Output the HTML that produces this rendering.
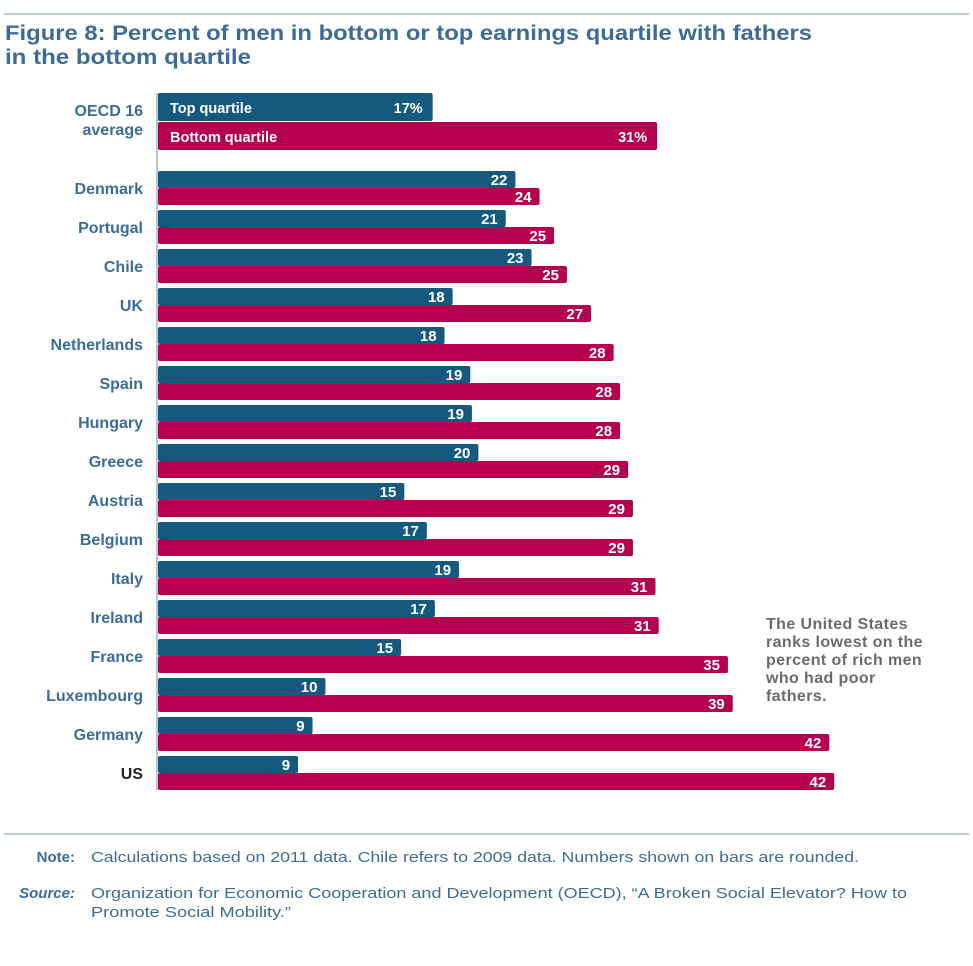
<!DOCTYPE html>
<html><head><meta charset="utf-8"><style>
body{margin:0;background:#fff;width:973px;height:961px;overflow:hidden;font-family:"Liberation Sans",sans-serif;}
</style></head><body>
<svg id="chart" width="973" height="961" xmlns="http://www.w3.org/2000/svg" font-family="Liberation Sans, sans-serif">
<line x1="4" y1="14" x2="969" y2="14" stroke="#a9b9cc" stroke-width="1.5"/>
<text x="5" y="40" font-size="21" font-weight="bold" fill="#3b6c98" textLength="807" lengthAdjust="spacingAndGlyphs">Figure 8: Percent of men in bottom or top earnings quartile with fathers</text>
<text x="5" y="64" font-size="21" font-weight="bold" fill="#3b6c98" textLength="246" lengthAdjust="spacingAndGlyphs">in the bottom quartile</text>
<g id="bars"></g>
<line x1="157" y1="93" x2="157" y2="790" stroke="#9fb0c4" stroke-width="1.5"/>
<text font-size="16" font-weight="bold" fill="#6b6b6b" letter-spacing="0.4">
<tspan x="766" y="629">The United States</tspan><tspan x="766" y="647">ranks lowest on the</tspan><tspan x="766" y="665">percent of rich men</tspan><tspan x="766" y="683">who had poor</tspan><tspan x="766" y="701">fathers.</tspan></text>
<line x1="4" y1="834" x2="969" y2="834" stroke="#a9b9cc" stroke-width="1.5"/>
<text x="75" y="862" font-size="15" font-weight="bold" fill="#3b6c98" text-anchor="end">Note:</text>
<text x="91" y="862" font-size="15" fill="#3b6c98" textLength="768" lengthAdjust="spacingAndGlyphs">Calculations based on 2011 data. Chile refers to 2009 data. Numbers shown on bars are rounded.</text>
<text x="75" y="898" font-size="15" font-weight="bold" font-style="italic" fill="#3b6c98" text-anchor="end">Source:</text>
<text x="91" y="898" font-size="15" fill="#3b6c98" textLength="816" lengthAdjust="spacingAndGlyphs">Organization for Economic Cooperation and Development (OECD), “A Broken Social Elevator? How to</text>
<text x="91" y="917" font-size="15" fill="#3b6c98" textLength="200" lengthAdjust="spacingAndGlyphs">Promote Social Mobility.”</text>
</svg>
<script>
const countries=["Denmark","Portugal","Chile","UK","Netherlands","Spain","Hungary","Greece","Austria","Belgium","Italy","Ireland","France","Luxembourg","Germany","US"];
const topValues=[22.2,21.6,23.2,18.3,17.8,19.4,19.5,19.9,15.3,16.7,18.7,17.2,15.1,10.4,9.6,8.7];
const bottomValues=[23.7,24.6,25.4,26.9,28.3,28.7,28.7,29.2,29.5,29.5,30.9,31.1,35.4,35.7,41.7,42.0];
const topLabels=["22","21","23","18","18","19","19","20","15","17","19","17","15","10","9","9"];
const bottomLabels=["24","25","25","27","28","28","28","29","29","29","31","31","35","39","42","42"];
const oecdValues=[17.06,31.0];
const oecdLabels=["17%","31%"];
const BLUE="#155a7e",RED="#b5004f",NS="http://www.w3.org/2000/svg";
const x=v=>158+v*16.1;
const g=document.getElementById('bars');
function mk(tag,attrs,txt){const e=document.createElementNS(NS,tag);for(const k in attrs)e.setAttribute(k,attrs[k]);if(txt!==undefined)e.textContent=txt;g.appendChild(e);return e;}
let r=mk('rect',{x:158,y:93,width:x(oecdValues[0])-158,height:28,fill:BLUE,rx:2});


r=mk('rect',{x:158,y:122,width:x(oecdValues[1])-158,height:28,fill:RED,rx:2});


let t=mk('text',{x:170,y:113,'font-size':14.5,'font-weight':'bold',fill:'#fff'},'Top quartile');


t=mk('text',{x:170,y:142,'font-size':14.5,'font-weight':'bold',fill:'#fff'},'Bottom quartile');


t=mk('text',{x:x(oecdValues[0])-10,y:113,'font-size':14.5,'font-weight':'bold',fill:'#fff','text-anchor':'end'},oecdLabels[0]);


t=mk('text',{x:x(oecdValues[1])-10,y:142,'font-size':14.5,'font-weight':'bold',fill:'#fff','text-anchor':'end'},oecdLabels[1]);


t=mk('text',{x:143,y:116,'font-size':16,'font-weight':'bold',fill:'#3b6c98','text-anchor':'end'},'OECD 16');


t=mk('text',{x:143,y:135,'font-size':16,'font-weight':'bold',fill:'#3b6c98','text-anchor':'end'},'average');


countries.forEach((c,i)=>{
  const y0=171+i*39;
  const slug=c.toLowerCase();
  let a=mk('rect',{x:158,y:y0,width:x(topValues[i])-158,height:17,fill:BLUE,rx:2});
  
  
  let b=mk('rect',{x:158,y:y0+17,width:x(bottomValues[i])-158,height:17,fill:RED,rx:2});
  
  
  let l1=mk('text',{x:x(topValues[i])-8,y:y0+14,'font-size':15,'font-weight':'bold',fill:'#fff','text-anchor':'end'},topLabels[i]);
  
  
  let l2=mk('text',{x:x(bottomValues[i])-8,y:y0+31,'font-size':15,'font-weight':'bold',fill:'#fff','text-anchor':'end'},bottomLabels[i]);
  
  
  let cl=mk('text',{x:143,y:y0+23,'font-size':16,'font-weight':'bold',fill:c==='US'?'#222':'#3b6c98','text-anchor':'end'},c);
  
  
});
</script>
</body></html>
